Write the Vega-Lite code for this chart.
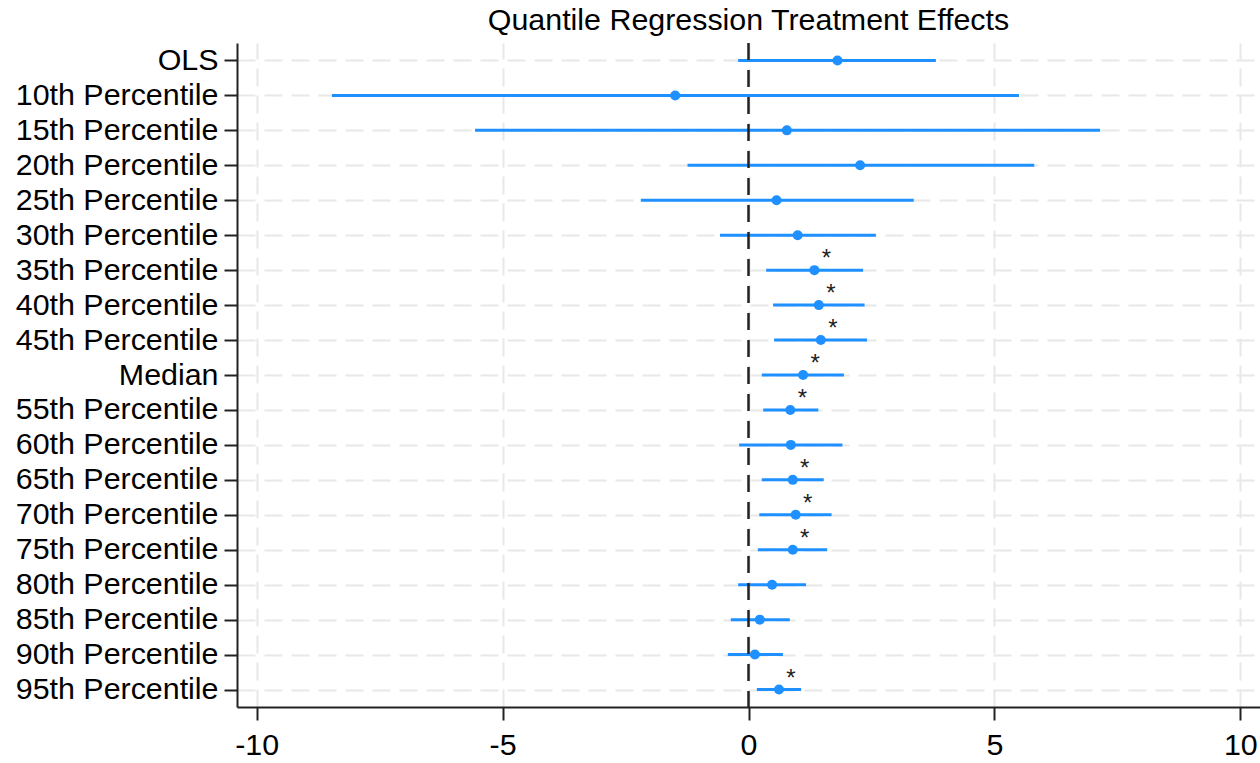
{
  "$schema": "https://vega.github.io/schema/vega-lite/v6.json",
  "width": 1023,
  "height": 664,
  "autosize": {"type": "none"},
  "padding": {"left": 237, "top": 43, "right": 0, "bottom": 56},
  "background": "white",
  "view": {"stroke": null},
  "title": {
    "text": "Quantile Regression Treatment Effects",
    "font": "Liberation Sans",
    "fontSize": 30.4,
    "fontWeight": "normal",
    "color": "#000000",
    "anchor": "middle",
    "offset": 1
  },
  "data": {
    "values": [
      {"term": "OLS", "est": 1.81, "lo": -0.21, "hi": 3.81, "sig": ""},
      {"term": "10th Percentile", "est": -1.49, "lo": -8.47, "hi": 5.50, "sig": ""},
      {"term": "15th Percentile", "est": 0.78, "lo": -5.56, "hi": 7.15, "sig": ""},
      {"term": "20th Percentile", "est": 2.27, "lo": -1.24, "hi": 5.81, "sig": ""},
      {"term": "25th Percentile", "est": 0.57, "lo": -2.19, "hi": 3.36, "sig": ""},
      {"term": "30th Percentile", "est": 1.00, "lo": -0.58, "hi": 2.59, "sig": ""},
      {"term": "35th Percentile", "est": 1.34, "lo": 0.36, "hi": 2.33, "sig": "*"},
      {"term": "40th Percentile", "est": 1.43, "lo": 0.50, "hi": 2.36, "sig": "*"},
      {"term": "45th Percentile", "est": 1.47, "lo": 0.52, "hi": 2.41, "sig": "*"},
      {"term": "Median", "est": 1.11, "lo": 0.27, "hi": 1.94, "sig": "*"},
      {"term": "55th Percentile", "est": 0.85, "lo": 0.30, "hi": 1.42, "sig": "*"},
      {"term": "60th Percentile", "est": 0.86, "lo": -0.19, "hi": 1.91, "sig": ""},
      {"term": "65th Percentile", "est": 0.90, "lo": 0.27, "hi": 1.53, "sig": "*"},
      {"term": "70th Percentile", "est": 0.96, "lo": 0.22, "hi": 1.69, "sig": "*"},
      {"term": "75th Percentile", "est": 0.90, "lo": 0.19, "hi": 1.60, "sig": "*"},
      {"term": "80th Percentile", "est": 0.48, "lo": -0.21, "hi": 1.17, "sig": ""},
      {"term": "85th Percentile", "est": 0.23, "lo": -0.36, "hi": 0.84, "sig": ""},
      {"term": "90th Percentile", "est": 0.13, "lo": -0.42, "hi": 0.70, "sig": ""},
      {"term": "95th Percentile", "est": 0.62, "lo": 0.17, "hi": 1.07, "sig": "*"}
    ]
  },
  "encoding": {
    "y": {
      "field": "term",
      "type": "nominal",
      "sort": null,
      "scale": {"type": "point", "padding": 0.5},
      "axis": {
        "title": null,
        "grid": true,
        "gridColor": "#e8e8e8",
        "gridWidth": 2,
        "gridDash": [18, 9],
        "domainColor": "#222222",
        "domainWidth": 2,
        "tickColor": "#222222",
        "tickWidth": 2,
        "tickSize": 13,
        "labelFont": "Liberation Sans",
        "labelFontSize": 30.4,
        "labelColor": "#000000",
        "labelPadding": 6,
        "labelLimit": 400
      }
    }
  },
  "layer": [
    {
      "mark": {"type": "rule", "color": "#1E90FF", "strokeWidth": 3},
      "encoding": {
        "x": {
          "field": "lo",
          "type": "quantitative",
          "scale": {"domain": [-10.4, 10.4], "nice": false, "zero": false},
          "axis": {
            "title": null,
            "values": [-10, -5, 0, 5, 10],
            "labelExpr": "toString(datum.value)",
            "grid": true,
            "gridColor": "#e8e8e8",
            "gridWidth": 2,
            "gridDash": [18, 9],
            "domainColor": "#222222",
            "domainWidth": 2,
            "tickColor": "#222222",
            "tickWidth": 2,
            "tickSize": 13,
            "labelFont": "Liberation Sans",
            "labelFontSize": 30.4,
            "labelColor": "#000000",
            "labelPadding": 10
          }
        },
        "x2": {"field": "hi"}
      }
    },
    {
      "data": {"values": [{"zero": 0}]},
      "mark": {"type": "rule", "color": "#222222", "strokeWidth": 2.5, "strokeDash": [17, 10]},
      "encoding": {
        "x": {"field": "zero", "type": "quantitative"},
        "y": null
      }
    },
    {
      "mark": {"type": "circle", "color": "#1E90FF", "size": 100, "opacity": 1},
      "encoding": {
        "x": {"field": "est", "type": "quantitative"}
      }
    },
    {
      "mark": {"type": "text", "font": "Liberation Sans", "fontSize": 24, "color": "#222222", "align": "center", "baseline": "alphabetic", "dx": 12, "dy": -4},
      "encoding": {
        "x": {"field": "est", "type": "quantitative"},
        "text": {"field": "sig"}
      }
    }
  ]
}
